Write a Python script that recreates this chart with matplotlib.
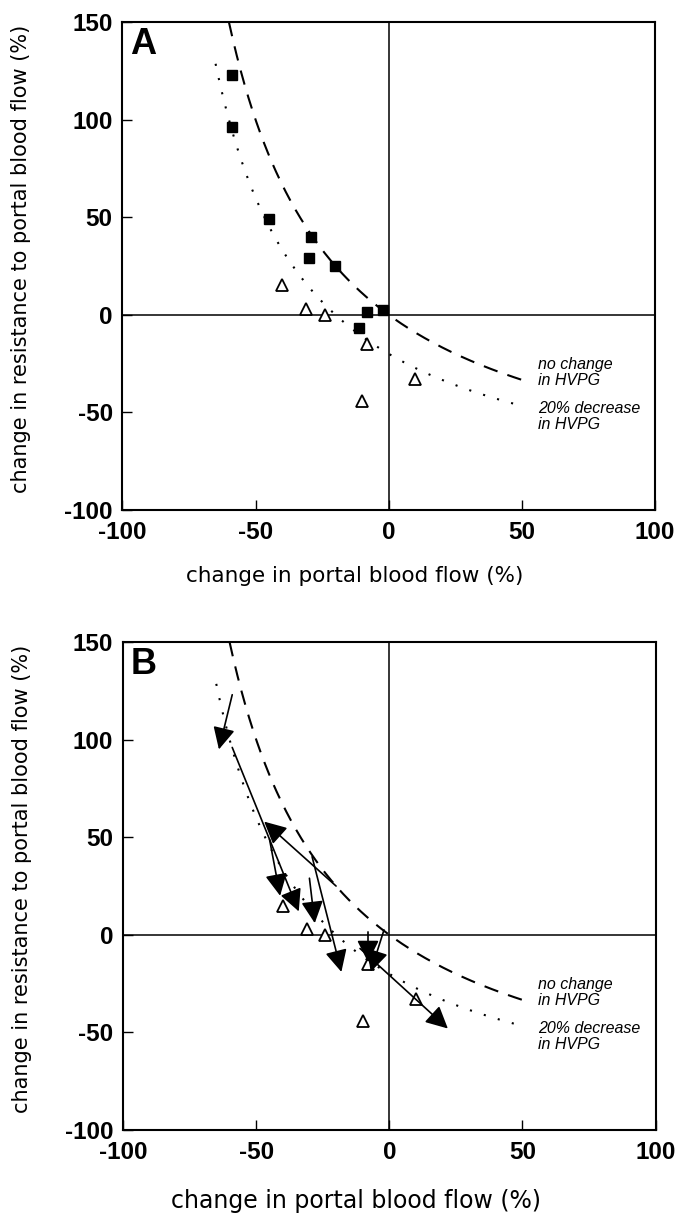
import numpy as np
import matplotlib
matplotlib.use("Agg")
import matplotlib.pyplot as plt

plt.rcParams['font.family'] = ['Liberation Sans', 'DejaVu Sans']
plt.rcParams['axes.unicode_minus'] = False

# ---------------- data ----------------
# filled squares: before treatment
sq_flow = [-59, -59, -45, -29, -30, -20, -8, -2, -11]
sq_res = [123, 96, 49, 40, 29, 25, 1.5, 2.5, -7]

# open triangles
tri_flow = [-40, -31, -24, -8, 10, -10]
tri_res = [15, 3, 0, -15, -33, -44]

# panel B arrow end points
arr_flow = [-34, -64, -41, -18, -28, -47, -8, -7, 22]
arr_res = [12, 95, 20, -19, 6, 58, -14, -19, -48]
# index of the square each arrow starts from
arr_start = [1, 0, 2, 3, 4, 5, 6, 7, 8]

# iso-HVPG curves: HVPG ratio and flow range
hvpg_ratio = [1.0, 0.8]
curve_from = [-60, -65]
curve_to = [50, 50]
curve_style = [(0, (7, 5)), (0, (1, 6))]
curve_text = ["no change\nin HVPG", "20% decrease\nin HVPG"]
curve_text_y = [-29.5, -52]

xticks = [-100, -50, 0, 50, 100]
yticks = [-100, -50, 0, 50, 100, 150]

fig = plt.figure(figsize=(6.8, 12.13), dpi=100)
ax_a = fig.add_axes([0.180, 0.5796, 0.783, 0.4023])
ax_b = fig.add_axes([0.181, 0.0684, 0.783, 0.4023])


def setup(ax, letter):
    ax.set_xlim(-100, 100)
    ax.set_ylim(-100, 150)
    ax.set_xticks(xticks)
    ax.set_yticks(yticks)
    ax.tick_params(direction='in', length=7, width=1, labelsize=17.5)
    ax.tick_params(axis='x', pad=8)
    ax.tick_params(axis='y', pad=7)
    for lab in ax.get_xticklabels() + ax.get_yticklabels():
        lab.set_fontweight('bold')
    for s in ax.spines.values():
        s.set_linewidth(1.5)
    ax.axhline(0, color='black', lw=1.1, zorder=1)
    ax.axvline(0, color='black', lw=1.1, zorder=1)
    for r, f0, f1, ls, txt, ty in zip(hvpg_ratio, curve_from, curve_to,
                                      curve_style, curve_text, curve_text_y):
        f = np.linspace(f0, f1, 300)
        res = 100 * r / (1 + f / 100) - 100
        ax.plot(f, res, color='black', lw=1.5, ls=ls, zorder=2)
        ax.text(56, ty, txt, fontsize=11.5, style='italic', va='center',
                linespacing=1.1)
    ax.text(0.015, 0.99, letter, transform=ax.transAxes, fontsize=26,
            fontweight='bold', va='top', ha='left')
    ax.set_ylabel("change in resistance to portal blood flow (%)",
                  fontsize=15, family='DejaVu Sans')
    ax.yaxis.set_label_coords(-0.172, 0.515)
    ax.plot(tri_flow, tri_res, ls='none', marker='^', ms=9, mfc='white',
            mec='black', mew=1.3, zorder=4)


setup(ax_a, "A")
ax_a.plot(sq_flow, sq_res, ls='none', marker='s', ms=6.5, color='black',
          zorder=5)
ax_a.set_xlabel("change in portal blood flow (%)", fontsize=15.5,
                family='DejaVu Sans')
ax_a.xaxis.set_label_coords(0.437, -0.115)

setup(ax_b, "B")
for i, k in enumerate(arr_start):
    ax_b.annotate("", xy=(arr_flow[i], arr_res[i]),
                  xytext=(sq_flow[k], sq_res[k]),
                  arrowprops=dict(arrowstyle='-|>,head_length=0.9,head_width=0.45',
                                  color='black', lw=1.2, mutation_scale=15,
                                  shrinkA=0, shrinkB=0),
                  zorder=6)
ax_b.set_xlabel("change in portal blood flow (%)", fontsize=17,
                family='DejaVu Sans')
ax_b.xaxis.set_label_coords(0.437, -0.12)

fig.savefig("out.png", dpi=100)
